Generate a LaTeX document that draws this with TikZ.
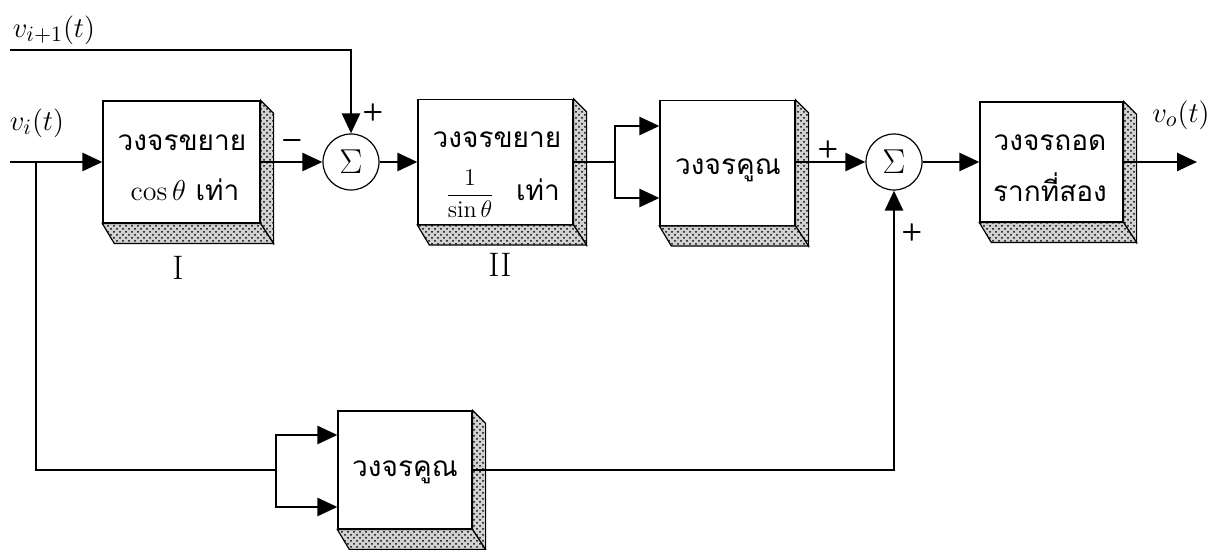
\documentclass[tikz,border=0pt]{standalone}
\usepackage{fontspec}
\newfontfamily\thai[Script=Thai]{Loma}
\usetikzlibrary{arrows.meta,patterns,calc}
\tikzset{
  blk/.style={draw,line width=0.6pt,fill=white,inner sep=0pt},
  txt/.style={inner sep=0pt,font=\thai\fontsize{14}{17}\selectfont},
  sumc/.style={draw,circle,line width=0.6pt,minimum size=28pt,inner sep=0pt,font=\LARGE},
  wire/.style={line width=1.3pt},
  arr/.style={wire,-{Triangle[length=10pt,width=9pt]}},
  sgn/.style={font=\sffamily\bfseries\large,inner sep=0pt},
  lbl/.style={font=\fontsize{15.5}{18}\selectfont,inner sep=0pt},
  rom/.style={font=\fontsize{17}{20}\selectfont,inner sep=0pt},
  face/.style={draw,line width=0.6pt,fill=gray!35,postaction={pattern=crosshatch dots}}
}
\newcommand\depthfaces[1]{%
  \path[face] (#1.north east) -- ++(6.5pt,-6.5pt) -- ($(#1.south east)+(6.5pt,-10pt)$) -- (#1.south east) -- cycle;
  \path[face] (#1.south west) -- ($(#1.south west)+(6pt,-10pt)$) -- ($(#1.south east)+(6.5pt,-10pt)$) -- (#1.south east) -- cycle;
}
\begin{document}
\begin{tikzpicture}[x=0.5pt,y=-0.5pt]
\useasboundingbox (0,0) rectangle (1223,550);
% blocks
\node[blk,minimum width=78.5pt,minimum height=61pt] (b1) at (181.5,162) {};
\node[blk,minimum width=77.5pt,minimum height=62.5pt] (b2) at (495.5,162) {};
\node[blk,minimum width=67.5pt,minimum height=62.5pt] (b3) at (727.5,163) {};
\node[blk,minimum width=71.5pt,minimum height=60pt] (b4) at (1051.5,162) {};
\node[blk,minimum width=67pt,minimum height=59pt] (b5) at (405,470) {};
\depthfaces{b1}
\depthfaces{b2}
\depthfaces{b3}
\depthfaces{b4}
\depthfaces{b5}
% block texts
\node[txt] (t1a) at (182,143) {วงจรขยาย};
\node[txt] (t1b) at (185,190) {$\cos\theta$ เท่า};
\node[txt] (t2a) at (497,140) {วงจรขยาย};
\node[txt,font=\fontsize{12}{14}\selectfont] (t2b) at (470,194) {$\displaystyle\frac{1}{\sin\theta}$};
\node[txt] (t2c) at (538,190) {เท่า};
\node[txt] (t3) at (728,170) {วงจรคูณ};
\node[txt] (t4a) at (1050,143) {วงจรถอด};
\node[txt] (t4b) at (1050,187) {รากที่สอง};
\node[txt] (t5) at (405,472) {วงจรคูณ};
% sums
\node[sumc] (s1) at (351,162) {$\Sigma$};
\node[sumc] (s2) at (894,162) {$\Sigma$};
% labels
\node[lbl] (lvip) at (54,30) {$v_{i+1}(t)$};
\node[lbl] (lvi) at (37,123) {$v_i(t)$};
\node[lbl] (lvo) at (1181,115) {$v_o(t)$};
\node[rom] (l1) at (178,268) {I};
\node[rom] (l2) at (500,265) {II};
\node[sgn] (p1) at (373,113) {+};
\node[sgn] (m1) at (292,143) {\textminus};
\node[sgn] (p2) at (828,150) {+};
\node[sgn] (p3) at (912,233) {+};
% coordinates
\coordinate (vip) at (10,50);
\coordinate (vi) at (10,162);
\coordinate (br0) at (36,162);
\coordinate (bv) at (276,470);
\coordinate (bu) at (615,162);
\coordinate (vo) at (1197,162);
% wires
\draw[arr] (vip) -| (s1.north);
\draw[arr] (vi) -- (b1.west);
\draw[wire] (br0) |- (bv);
\draw[arr] (bv) |- ($(b5.west)+(0,17.5pt)$);
\draw[arr] (bv) |- ($(b5.west)+(0,-18.5pt)$);
\draw[arr] (b1.east) -- (s1.west);
\draw[arr] (s1.east) -- (b2.west);
\draw[wire] (b2.east) -- (bu);
\draw[arr] (bu) |- ($(b3.west)+(0,18.5pt)$);
\draw[arr] (bu) |- ($(b3.west)+(0,-17.5pt)$);
\draw[arr] (b3.east |- s2) -- (s2.west);
\draw[arr] (s2.east) -- (b4.west);
\draw[arr] (b4.east) -- (vo);
\draw[arr] (b5.east) -| (s2.south);
\end{tikzpicture}
\end{document}
